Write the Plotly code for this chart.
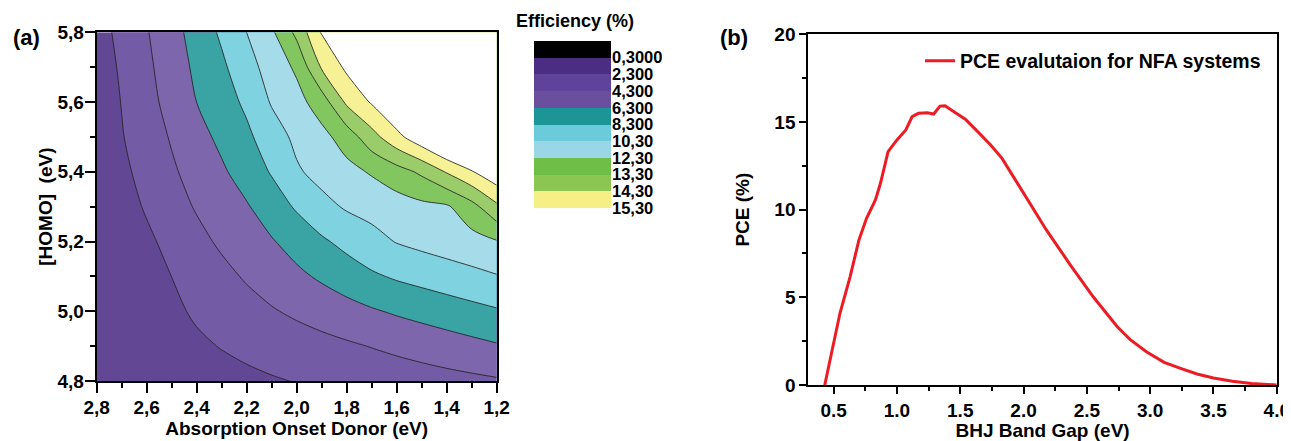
import numpy as np
import plotly.graph_objects as go

# ---------------- Panel (a): efficiency map ----------------
onset_x = [2.8, 2.7, 2.6, 2.5, 2.4, 2.3, 2.2, 2.1, 2.0, 1.9, 1.8, 1.7, 1.6, 1.5, 1.4, 1.3, 1.2]
homo_y = [4.8, 4.9, 5.0, 5.1, 5.2, 5.3, 5.4, 5.5, 5.6, 5.7, 5.8]
# efficiency (%) estimated at each (HOMO row, onset column)
eff_z = [
    [0.64, 0.86, 1.07, 1.29, 1.50, 1.72, 1.93, 2.15, 2.36, 2.58, 2.80, 3.01, 3.23, 3.44, 3.66, 3.87, 4.09],
    [0.70, 1.03, 1.37, 1.70, 2.03, 2.37, 2.70, 3.03, 3.37, 3.70, 4.03, 4.37, 4.72, 5.07, 5.42, 5.77, 6.12],
    [0.50, 0.90, 1.44, 1.98, 2.52, 3.06, 3.60, 4.14, 4.64, 5.13, 5.61, 6.10, 6.54, 6.93, 7.32, 7.71, 8.10],
    [0.50, 0.82, 1.56, 2.31, 3.04, 3.78, 4.51, 5.20, 5.89, 6.59, 7.30, 8.01, 8.54, 8.95, 9.36, 9.77, 10.18],
    [0.60, 1.05, 1.94, 2.85, 3.76, 4.61, 5.38, 6.15, 7.06, 8.01, 8.86, 9.66, 10.39, 10.83, 11.22, 11.60, 12.17],
    [0.50, 1.50, 2.50, 3.50, 4.47, 5.31, 6.13, 7.31, 8.54, 9.71, 10.52, 10.95, 11.39, 11.82, 12.05, 12.95, 14.10],
    [0.79, 1.87, 2.95, 4.03, 5.03, 6.01, 7.18, 8.46, 10.06, 10.94, 11.70, 12.40, 12.90, 13.48, 14.38, 15.22, 16.05],
    [1.05, 2.19, 3.33, 4.47, 5.61, 6.76, 7.90, 9.38, 10.74, 11.71, 12.74, 13.93, 15.00, 16.00, 17.00, 18.00, 19.00],
    [1.07, 2.36, 3.65, 4.97, 6.31, 7.41, 8.68, 10.47, 11.61, 12.80, 14.48, 15.40, 16.40, 17.40, 18.40, 19.40, 20.40],
    [1.23, 2.57, 3.90, 5.31, 6.68, 7.93, 9.57, 11.10, 12.47, 14.40, 15.50, 16.50, 17.50, 18.50, 19.50, 20.50, 21.50],
    [1.50, 2.83, 4.17, 5.59, 7.07, 8.63, 10.31, 11.97, 13.55, 15.40, 16.60, 17.60, 18.60, 19.60, 20.60, 21.60, 22.60],
]
eff_levels = [0.3, 2.3, 4.3, 6.3, 8.3, 10.3, 12.3, 13.3, 14.3, 15.3]
eff_labels = ["0,3000", "2,300", "4,300", "6,300", "8,300", "10,30", "12,30", "13,30", "14,30", "15,30"]
a_xtick_vals = [2.8, 2.6, 2.4, 2.2, 2.0, 1.8, 1.6, 1.4, 1.2]
a_xtick_text = ["2,8", "2,6", "2,4", "2,2", "2,0", "1,8", "1,6", "1,4", "1,2"]
a_ytick_vals = [4.8, 5.0, 5.2, 5.4, 5.6, 5.8]
a_ytick_text = ["4,8", "5,0", "5,2", "5,4", "5,6", "5,8"]

# ---------------- Panel (b): PCE vs band gap ----------------
gap_ev = [0.43, 0.50, 0.55, 0.63, 0.70, 0.76, 0.83, 0.87, 0.93, 1.00, 1.07, 1.12, 1.17,
          1.24, 1.29, 1.34, 1.38, 1.45, 1.54, 1.63, 1.74, 1.83, 2.00, 2.18, 2.37, 2.55,
          2.74, 2.84, 2.97, 3.11, 3.24, 3.37, 3.50, 3.65, 3.80, 3.90, 4.00]
pce = [0.0, 2.38, 4.09, 6.17, 8.27, 9.5, 10.55, 11.5, 13.3, 13.97, 14.54, 15.3, 15.49,
       15.52, 15.45, 15.9, 15.92, 15.58, 15.15, 14.5, 13.68, 12.92, 10.93, 8.84, 6.84, 5.03,
       3.32, 2.6, 1.9, 1.29, 0.95, 0.63, 0.4, 0.22, 0.09, 0.03, 0.0]

# ---------------- styling ----------------
# the page body has an 8px margin, so the figure is drawn 8px in from the window corner
OFF = 8
W, H = 1291 - OFF, 441 - OFF
FONT = "Liberation Sans, Arial, sans-serif"
legend_colors = ["#000000", "#4b2d84", "#5f4299", "#6a4f9e", "#1c9596",
                 "#6ccbdb", "#99d6e6", "#6ebe47", "#8bc653", "#f6ef85"]


def lighten(hexc, f):
    r, g, b = int(hexc[1:3], 16), int(hexc[3:5], 16), int(hexc[5:7], 16)
    r, g, b = [int(round(c + (255 - c) * f)) for c in (r, g, b)]
    return f"rgb({r},{g},{b})"


# plot bands: below 2.3 ... above 15.3 (textured fills look a bit lighter)
fill_colors = [lighten(c, 0.13) for c in legend_colors[1:]] + ["#ffffff"]


def discrete_scale(colors, centered):
    n = len(colors)
    out = []
    for k, c in enumerate(colors):
        if centered:
            lo, hi = max(0.0, (k - 0.5) / (n - 1)), min(1.0, (k + 0.5) / (n - 1))
        else:
            lo, hi = k / n, (k + 1) / n
        out += [[lo, c], [hi, c]]
    return out


z = np.array(eff_z, dtype=float)
lv = np.array(eff_levels)
idx = np.interp(z, lv, np.arange(len(lv)))
idx = np.where(z > lv[-1], len(lv) - 1 + (z - lv[-1]), idx)
idx = np.where(z < lv[0], (z - lv[0]) / 2.0, idx)


def px_x(p):
    return (p - OFF) / W


def px_y(p):
    return 1 - (p - OFF) / H


tick_font = dict(family=FONT, size=19, color="black", weight="bold")
title_font = dict(family=FONT, size=19, color="black", weight="bold")

fig = go.Figure()

fig.add_trace(go.Contour(
    x=onset_x, y=homo_y, z=idx,
    contours=dict(start=1, end=len(lv) - 1, size=1, coloring="fill", showlines=True),
    line=dict(color="rgba(35,35,35,0.85)", width=1, smoothing=0.85),
    colorscale=discrete_scale(fill_colors, True),
    showscale=False, showlegend=False, hoverinfo="skip",
    xaxis="x", yaxis="y",
))

# colour legend (stacked blocks)
fig.add_trace(go.Heatmap(
    x=[0], y=[k + 0.5 for k in range(len(eff_levels))],
    z=[[k] for k in range(len(eff_levels))],
    zmin=0, zmax=len(eff_levels), colorscale=discrete_scale(legend_colors, False),
    showscale=False, hoverinfo="skip", showlegend=False, xaxis="x3", yaxis="y3",
))

fig.add_trace(go.Scatter(
    x=gap_ev, y=pce, mode="lines", name="PCE evalutaion for NFA systems",
    line=dict(color="#ED1C24", width=3), xaxis="x2", yaxis="y2",
))

common = dict(showgrid=False, zeroline=False, showline=True, linecolor="black",
              linewidth=2, tickcolor="black", tickwidth=2, tickfont=tick_font,
              automargin=False)

fig.update_layout(
    width=W, height=H, autosize=False,
    margin=dict(l=0, r=0, t=0, b=0, pad=0),
    paper_bgcolor="white", plot_bgcolor="white",
    font=dict(family=FONT, color="black"),
    xaxis=dict(domain=[px_x(96.7), px_x(496.7)], range=[2.8, 1.2], anchor="y",
               tickmode="array", tickvals=a_xtick_vals, ticktext=a_xtick_text,
               ticks="outside", ticklen=10, mirror=True, ticklabelstandoff=-2,
               minor=dict(ticks="outside", ticklen=5, tickwidth=2, tickcolor="black",
                          tickmode="linear", tick0=1.2, dtick=0.1),
               title=dict(text="Absorption Onset Donor (eV)", font=title_font, standoff=0),
               **common),
    yaxis=dict(domain=[px_y(381), px_y(32.3)], range=[4.8, 5.8], anchor="x",
               tickmode="array", tickvals=a_ytick_vals, ticktext=a_ytick_text,
               ticks="outside", ticklen=10, mirror=True, ticklabelstandoff=-3,
               minor=dict(ticks="outside", ticklen=5, tickwidth=2, tickcolor="black",
                          tickmode="linear", tick0=4.8, dtick=0.1),
               title=dict(text="[HOMO] \u00a0(eV)", font=title_font, standoff=0),
               **common),
    xaxis3=dict(domain=[px_x(534), px_x(611)], anchor="y3", visible=False,
                range=[-0.5, 0.5], automargin=False),
    yaxis3=dict(domain=[px_y(208), px_y(41)], anchor="x3", range=[len(eff_levels), 0],
                side="right", tickmode="array",
                tickvals=[k + 1 for k in range(len(eff_levels))], ticktext=eff_labels,
                ticks="", showgrid=False, zeroline=False, showline=False, automargin=False,
                tickfont=dict(family=FONT, size=16.5, color="black", weight="bold")),
    xaxis2=dict(domain=[px_x(808.3), px_x(1276.8)], range=[0.3, 4.0], anchor="y2",
                tickmode="linear", tick0=0.5, dtick=0.5, tickformat=".1f",
                ticks="outside", ticklen=7, mirror=True,
                minor=dict(ticks="outside", ticklen=4, tickwidth=2, tickcolor="black",
                           tickmode="linear", tick0=0.25, dtick=0.25),
                title=dict(text="BHJ Band Gap (eV)", font=title_font, standoff=3),
                **common),
    yaxis2=dict(domain=[px_y(385), px_y(34.2)], range=[0, 20], anchor="x2",
                tickmode="linear", tick0=0, dtick=5,
                ticks="outside", ticklen=7, mirror=True,
                minor=dict(ticks="outside", ticklen=4, tickwidth=2, tickcolor="black",
                           tickmode="linear", tick0=0, dtick=2.5),
                title=dict(text="PCE (%)", font=title_font, standoff=20),
                **common),
    xaxis4=dict(overlaying="x2", side="top", anchor="y2", range=[0.3, 4.0],
                showticklabels=False, showgrid=False, zeroline=False, showline=False,
                tickmode="linear", tick0=0.5, dtick=0.5, ticks="inside", ticklen=6,
                tickwidth=2, tickcolor="black", automargin=False,
                minor=dict(ticks="inside", ticklen=4, tickwidth=2, tickcolor="black",
                           tickmode="linear", tick0=0.25, dtick=0.25)),
    yaxis4=dict(overlaying="y2", side="right", anchor="x2", range=[0, 20],
                showticklabels=False, showgrid=False, zeroline=False, showline=False,
                tickmode="linear", tick0=0, dtick=5, ticks="inside", ticklen=6,
                tickwidth=2, tickcolor="black", automargin=False,
                minor=dict(ticks="inside", ticklen=4, tickwidth=2, tickcolor="black",
                           tickmode="linear", tick0=0, dtick=2.5)),
    showlegend=True,
    legend=dict(x=px_x(920), y=px_y(61), xanchor="left", yanchor="middle",
                bgcolor="rgba(0,0,0,0)", borderwidth=0,
                font=dict(family=FONT, size=19.5, color="black", weight="bold")),
    annotations=[
        dict(text="(a)", x=px_x(26), y=px_y(37), xref="paper", yref="paper",
             showarrow=False, xanchor="center", yanchor="middle",
             font=dict(family=FONT, size=22, color="black", weight="bold")),
        dict(text="(b)", x=px_x(734), y=px_y(37), xref="paper", yref="paper",
             showarrow=False, xanchor="center", yanchor="middle",
             font=dict(family=FONT, size=22, color="black", weight="bold")),
        dict(text="Efficiency (%)", x=px_x(575), y=px_y(21), xref="paper", yref="paper",
             showarrow=False, xanchor="center", yanchor="middle",
             font=dict(family=FONT, size=18, color="black", weight="bold")),
    ],
)

fig.write_html("out.html")
